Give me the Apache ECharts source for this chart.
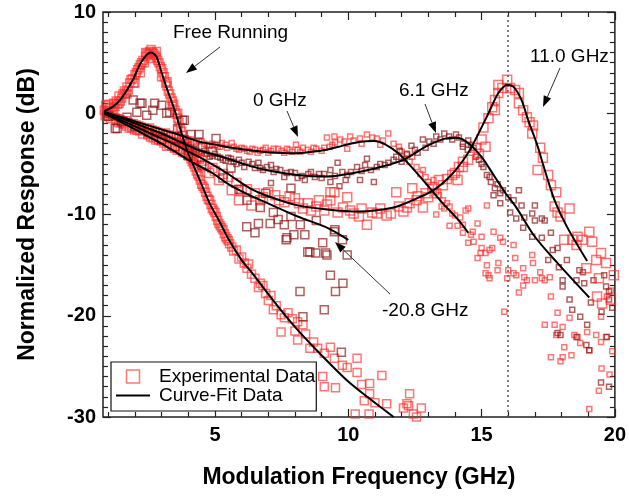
<!DOCTYPE html>
<html>
<head>
<meta charset="utf-8">
<script src="https://cdn.jsdelivr.net/npm/echarts@6/dist/echarts.min.js"></script>
<style>
  html, body { margin: 0; padding: 0; background: #fff; }
  #chart { width: 629px; height: 496px; }
</style>
</head>
<body>
<div id="chart"></div>
<script>
// axis ranges and ticks
const xMin = 0.8
const xMax = 20
const yMin = -30
const yMax = 10
const majorXTicks = [5, 10, 15, 20]
const minorXTicks = [1, 2, 3, 4, 6, 7, 8, 9, 11, 12, 13, 14, 16, 17, 18, 19]
const majorYTicks = [-30, -20, -10, 0, 10]
const minorYTicks = [-29, -28, -27, -26, -25, -24, -23, -22, -21, -19, -18, -17, -16, -15, -14, -13, -12, -11,
  -9, -8, -7, -6, -5, -4, -3, -2, -1, 1, 2, 3, 4, 5, 6, 7, 8, 9]
const markerFreq = 16

// experimental data, [GHz, dB]
const freeRunningData = [
  [0.85, 0.3], [0.9, 0.8], [0.95, 0.0], [1.0, 0.2], [1.0, 0.9], [1.05, 0.6], [1.1, 0.5], [1.15, 0.1], [1.2, 1.0], [1.2, 0.3],
  [1.25, 0.7], [1.3, 1.2], [1.35, 0.9], [1.4, 1.0], [1.4, 1.7], [1.45, 1.2], [1.5, 1.5], [1.55, 1.9], [1.6, 2.2], [1.65, 2.0],
  [1.7, 2.6], [1.7, 1.9], [1.75, 2.3], [1.8, 3.0], [1.85, 3.3], [1.9, 3.4], [1.95, 3.0], [2.0, 3.0], [2.0, 3.8], [2.05, 4.0],
  [2.1, 4.3], [2.15, 4.5], [2.2, 4.0], [2.2, 4.8], [2.25, 5.0], [2.3, 5.2], [2.35, 5.0], [2.4, 5.6], [2.4, 6.0], [2.45, 5.9],
  [2.5, 5.8], [2.55, 6.1], [2.6, 6.3], [2.6, 5.4], [2.65, 6.0], [2.7, 5.9], [2.75, 5.7], [2.8, 5.5], [2.8, 6.1], [2.85, 5.2],
  [2.9, 5.0], [2.95, 4.6], [3.0, 4.4], [3.0, 3.6], [3.05, 4.0], [3.1, 3.6], [3.15, 3.0], [3.2, 2.7], [3.2, 3.1], [3.25, 2.2],
  [3.3, 1.9], [3.35, 1.5], [3.4, 1.2], [3.4, 0.7], [3.45, 0.9], [3.5, 0.3], [3.55, -0.1], [3.6, -0.5], [3.6, 0.0], [3.65, -0.9],
  [3.7, -1.4], [3.75, -1.8], [3.8, -2.2], [3.85, -2.6], [3.9, -3.0], [3.95, -3.3], [4.0, -3.7], [4.05, -4.0], [4.1, -4.5], [4.15, -4.8],
  [4.2, -5.0], [4.25, -5.3], [4.3, -5.7], [4.35, -6.0], [4.4, -6.2], [4.45, -6.6], [4.5, -7.0], [4.55, -7.2], [4.6, -7.4], [4.65, -7.8],
  [4.7, -8.2], [4.75, -8.5], [4.8, -8.6], [4.85, -9.0], [4.9, -9.4], [4.95, -9.6], [5.0, -9.8], [5.05, -10.2], [5.1, -10.6], [5.15, -10.9],
  [5.2, -11.1], [5.25, -11.3], [5.3, -11.5], [5.35, -11.9], [5.4, -12.2], [5.45, -12.4], [5.5, -12.6], [5.55, -12.9], [5.63, -13.2], [5.7, -13.6],
  [5.8, -13.5], [5.9, -14.4], [6.0, -14.2], [6.1, -14.8], [6.2, -15.3], [6.26, -14.9], [6.37, -15.9], [6.5, -16.3], [6.63, -17.2], [6.7, -16.8],
  [6.8, -17.0], [6.9, -17.8], [7.0, -18.5], [7.1, -18.0], [7.19, -19.4], [7.3, -19.0], [7.48, -19.9], [7.6, -20.2], [7.74, -19.7], [7.48, -21.6],
  [7.9, -20.3], [8.0, -21.5], [8.1, -20.6], [8.3, -20.9], [8.1, -22.4], [8.4, -21.8], [8.56, -23.2], [8.7, -22.6], [8.85, -23.2], [9.33, -23.1],
  [9.1, -23.7], [9.48, -24.2], [9.78, -24.9], [9.96, -25.1], [10.33, -24.2], [9.04, -26.0], [9.52, -27.1], [9.1, -27.0], [10.33, -25.6], [10.5, -26.8],
  [10.8, -26.7], [10.8, -27.7], [11.26, -25.9], [10.6, -28.4], [11.0, -28.6], [11.44, -28.7], [10.26, -29.7], [10.78, -29.7], [12.3, -27.7], [12.26, -28.9],
  [12.07, -29.1], [12.44, -29.7], [12.74, -29.1], [12.2, -28.7], [12.56, -30.0]
]
const det0Data = [
  [0.9, 0.2], [1.0, 0.0], [1.1, -0.1], [1.2, -0.3], [1.3, -0.3], [1.4, -0.4], [1.5, -0.5], [1.6, -0.6], [1.7, -0.6], [1.8, -0.8],
  [1.9, -0.9], [2.0, -0.9], [2.1, -1.0], [2.2, -1.1], [2.3, -1.2], [2.4, -1.3], [2.5, -1.4], [2.6, -1.3], [2.7, -1.5], [2.8, -1.6],
  [2.9, -1.7], [3.0, -1.8], [3.1, -1.9], [3.2, -1.8], [3.3, -2.0], [3.4, -2.1], [3.5, -2.2], [3.6, -2.2], [3.7, -2.3], [3.8, -2.4],
  [3.9, -2.5], [4.0, -2.6], [4.1, -2.6], [4.2, -2.8], [4.3, -2.9], [4.4, -2.7], [4.5, -2.8], [4.6, -3.0], [4.7, -3.1], [4.8, -3.2],
  [4.9, -3.0], [5.0, -3.1], [5.1, -3.3], [5.2, -3.3], [5.26, -2.95], [5.4, -3.1], [5.45, -3.4], [5.63, -2.95], [5.7, -3.3], [5.8, -3.5],
  [5.9, -3.6], [6.0, -3.4], [6.1, -3.5], [6.2, -3.7], [6.3, -3.8], [6.4, -3.5], [6.5, -3.6], [6.6, -3.9], [6.7, -3.7], [6.8, -3.6],
  [6.9, -3.4], [7.0, -3.9], [7.1, -3.7], [7.2, -3.5], [7.37, -3.5], [7.5, -3.7], [7.6, -3.9], [7.7, -3.5], [7.8, -3.6], [7.9, -3.8],
  [8.04, -3.1], [8.1, -3.6], [8.2, -3.8], [8.3, -3.4], [8.48, -3.6], [8.6, -3.8], [8.7, -3.4], [8.8, -3.5], [9.0, -3.7], [9.1, -3.4],
  [9.2, -2.4], [9.3, -3.3], [9.4, -3.1], [9.48, -2.3], [9.5, -2.9], [9.7, -2.6], [9.85, -2.8], [9.96, -3.5], [10.07, -2.3], [10.2, -2.7],
  [10.44, -2.5], [10.5, -3.0], [10.7, -2.1], [10.9, -2.4], [11.07, -2.5], [11.2, -3.1], [11.3, -2.7], [11.5, -2.0], [11.7, -3.0], [11.9, -3.3],
  [12.0, -3.8], [12.1, -4.5], [12.2, -4.1], [12.3, -4.8], [12.4, -4.3], [12.56, -5.3], [12.7, -6.0], [12.8, -5.6], [12.9, -6.3], [13.0, -6.8],
  [13.1, -7.3], [13.2, -6.6], [13.3, -7.8], [13.3, -10.0], [13.4, -8.1], [13.5, -9.2], [13.55, -8.6], [13.6, -9.4], [13.7, -8.9], [13.8, -9.2],
  [13.8, -11.1], [13.9, -9.9], [14.0, -10.1], [14.1, -11.1], [14.2, -10.3], [14.3, -11.0], [14.3, -11.8], [14.4, -9.6], [14.5, -9.4], [14.5, -12.8],
  [14.6, -12.0], [14.67, -11.7], [14.7, -12.7], [14.85, -10.9], [14.85, -14.3], [14.96, -13.8], [15.0, -12.2], [15.0, -13.3], [15.15, -13.8], [15.15, -15.8],
  [15.2, -9.1], [15.2, -15.0], [15.26, -16.0], [15.3, -13.5], [15.3, -16.3], [15.4, -13.3], [15.45, -11.7], [15.6, -15.5], [15.63, -14.8], [15.7, -12.3],
  [15.8, -12.7], [15.85, -19.6], [15.96, -16.3], [16.0, -15.5], [16.2, -13.0], [16.2, -15.8], [16.26, -14.3], [16.3, -16.0], [16.4, -17.7], [16.56, -15.3],
  [16.56, -17.0], [16.6, -16.2], [16.7, -16.5], [16.9, -14.0], [16.93, -14.8], [17.0, -16.5], [17.2, -15.7], [17.26, -16.3], [17.37, -16.5], [17.56, -16.2],
  [17.6, -18.1], [17.37, -20.9], [17.74, -20.9], [17.85, -19.7], [18.04, -21.1], [18.3, -20.2], [17.8, -21.9], [18.48, -21.9], [18.6, -22.1], [18.7, -22.7],
  [18.96, -21.6], [19.3, -21.9], [19.48, -22.6], [18.1, -23.1], [17.6, -24.1], [18.04, -24.1], [18.37, -23.9], [17.96, -24.5], [19.04, -23.4], [19.48, -20.1],
  [19.67, -22.1], [19.7, -18.1], [19.5, -25.2], [19.4, -27.4], [19.04, -29.2], [19.85, -17.5], [19.9, -23.5], [19.8, -25.8]
]
const det61Data = [
  [0.9, 0.0], [1.0, -0.2], [1.1, -0.3], [1.2, -0.4], [1.3, -0.4], [1.4, -0.6], [1.5, -0.7], [1.6, -0.7], [1.7, -0.9], [1.8, -1.0],
  [1.9, -1.0], [2.0, -1.2], [2.1, -1.3], [2.2, -1.4], [2.3, -1.5], [2.4, -1.6], [2.5, -1.8], [2.6, -1.9], [2.7, -2.0], [2.8, -2.1],
  [2.9, -2.2], [3.0, -2.1], [3.1, -2.3], [3.2, -2.5], [3.3, -2.6], [3.4, -2.7], [3.5, -2.8], [3.6, -3.0], [3.7, -3.0], [3.8, -3.1],
  [3.9, -3.2], [4.0, -3.3], [4.1, -3.4], [4.2, -3.5], [4.3, -3.6], [4.4, -3.8], [4.5, -3.9], [4.6, -3.7], [4.7, -4.0], [4.8, -4.3],
  [4.9, -4.2], [5.0, -4.0], [5.1, -4.3], [5.2, -4.4], [5.3, -4.6], [5.4, -4.7], [5.5, -4.4], [5.6, -4.5], [5.7, -4.8], [5.8, -5.0],
  [5.9, -4.6], [6.0, -4.9], [6.1, -5.3], [6.26, -4.8], [6.4, -5.0], [6.5, -5.4], [6.63, -4.9], [6.7, -5.4], [6.8, -5.6], [6.95, -5.3],
  [7.1, -5.1], [7.1, -6.9], [7.2, -5.8], [7.3, -5.5], [7.45, -5.6], [7.6, -6.3], [7.7, -5.9], [7.85, -5.8], [8.0, -5.9], [8.1, -6.4],
  [8.25, -6.2], [8.37, -6.6], [8.5, -6.0], [8.6, -5.8], [8.75, -6.3], [8.9, -6.0], [9.0, -6.4], [9.1, -6.0], [9.33, -5.6], [9.33, -6.8],
  [9.5, -6.2], [9.6, -4.9], [9.67, -7.2], [9.78, -5.8], [9.9, -6.6], [9.96, -6.1], [10.1, -5.8], [10.33, -5.3], [10.44, -6.6], [10.5, -5.7],
  [10.63, -5.1], [10.7, -4.5], [10.85, -5.6], [10.96, -6.8], [11.07, -5.3], [11.2, -5.0], [11.37, -5.1], [11.5, -4.9], [11.7, -4.6], [11.8, -4.3],
  [11.93, -3.7], [12.0, -4.8], [12.2, -4.0], [12.37, -3.2], [12.5, -3.6], [12.6, -3.9], [12.8, -2.6], [12.9, -3.4], [13.04, -2.8], [13.2, -3.0],
  [13.3, -2.3], [13.45, -2.6], [13.6, -2.0], [13.78, -2.3], [13.9, -2.6], [14.04, -2.1], [14.15, -2.4], [14.3, -3.0], [14.3, -3.3], [14.48, -3.6],
  [14.5, -2.7], [14.6, -3.1], [14.7, -3.4], [14.78, -4.3], [14.9, -4.6], [15.0, -5.0], [15.07, -5.3], [15.2, -6.1], [15.3, -6.3], [15.35, -6.8],
  [15.45, -8.1], [15.5, -7.4], [15.6, -7.0], [15.7, -7.9], [15.7, -8.9], [15.8, -7.6], [16.0, -8.3], [16.07, -9.8], [16.2, -8.6], [16.3, -10.4],
  [16.4, -7.6], [16.5, -9.1], [16.56, -11.3], [16.6, -10.3], [16.9, -9.9], [16.9, -12.2], [17.0, -9.1], [17.0, -10.6], [17.26, -10.4], [17.26, -12.3],
  [17.37, -10.6], [17.5, -14.5], [17.6, -11.8], [17.67, -13.5], [17.85, -13.3], [17.85, -21.7], [17.9, -15.2], [17.96, -21.9], [18.04, -16.5], [18.04, -17.1],
  [18.2, -14.5], [18.3, -18.4], [18.4, -19.4], [18.56, -16.5], [18.56, -22.1], [18.67, -15.5], [18.7, -20.1], [18.8, -15.7], [18.85, -16.8], [18.93, -22.9],
  [18.96, -20.9], [19.04, -23.4], [19.1, -18.7], [19.2, -16.5], [19.48, -26.6], [19.5, -19.6], [19.6, -16.0], [19.67, -17.1], [19.7, -22.1], [19.78, -17.6],
  [19.78, -18.4], [19.78, -27.0], [19.9, -19.2]
]
const det110Data = [
  [0.9, -0.2], [1.0, -0.3], [1.1, -0.5], [1.3, -0.6], [1.4, -0.9], [1.5, -0.9], [1.6, -1.0], [1.7, -1.2], [1.8, -1.4], [1.9, -1.4],
  [2.0, -1.6], [2.1, -1.6], [2.2, -1.7], [2.3, -2.0], [2.5, -2.1], [2.6, -2.3], [2.7, -2.4], [2.8, -2.6], [2.9, -2.6], [3.0, -2.7],
  [3.1, -2.9], [3.2, -3.2], [3.3, -3.1], [3.4, -3.2], [3.5, -3.4], [3.6, -3.6], [3.7, -3.5], [3.8, -3.8], [3.9, -3.9], [4.0, -4.1],
  [4.1, -4.2], [4.2, -4.6], [4.3, -4.4], [4.4, -4.5], [4.5, -4.7], [4.6, -5.2], [4.78, -5.9], [4.9, -5.4], [5.0, -5.7], [5.15, -6.6],
  [5.3, -6.0], [5.5, -6.3], [5.63, -7.6], [5.8, -6.9], [5.9, -8.6], [6.0, -7.6], [6.2, -7.5], [6.37, -9.1], [6.5, -7.9], [6.7, -8.6],
  [6.8, -8.3], [7.0, -7.8], [7.26, -8.1], [7.4, -8.6], [7.6, -8.8], [7.8, -8.2], [8.0, -8.4], [8.15, -8.9], [8.3, -9.4], [8.48, -8.9],
  [8.6, -9.6], [8.8, -9.2], [8.9, -8.6], [9.1, -9.6], [9.2, -9.0], [9.33, -7.8], [9.33, -8.6], [9.48, -7.8], [9.6, -9.8], [9.8, -9.3],
  [9.96, -8.3], [10.07, -9.6], [10.2, -9.9], [10.4, -10.2], [10.5, -9.4], [10.7, -11.0], [10.9, -9.8], [11.07, -9.9], [11.2, -9.4], [11.44, -10.1],
  [11.6, -9.9], [11.8, -7.8], [11.9, -9.2], [12.07, -9.7], [12.2, -9.3], [12.3, -8.9], [12.4, -7.4], [12.56, -8.6], [12.6, -8.2], [12.8, -9.3],
  [12.9, -7.9], [13.0, -8.3], [13.15, -7.3], [13.3, -7.9], [13.4, -6.6], [13.55, -7.1], [13.7, -6.5], [13.9, -6.1], [14.0, -5.9], [14.1, -6.6],
  [14.15, -5.3], [14.3, -4.8], [14.3, -5.3], [14.5, -4.6], [14.78, -3.4], [14.9, -4.0], [15.0, -2.6], [15.07, -1.4], [15.15, -3.3], [15.26, -0.5],
  [15.4, 0.6], [15.5, 0.3], [15.5, 1.3], [15.63, 2.0], [15.63, 2.8], [15.78, 2.5], [15.96, 3.3], [16.07, 2.5], [16.26, 2.3], [16.4, 2.0],
  [16.4, 1.0], [16.56, 0.3], [16.7, -0.4], [16.8, -0.9], [16.93, -1.2], [16.9, -2.0], [17.1, -5.6], [17.2, -3.4], [17.3, -4.4], [17.5, -6.1],
  [17.6, -7.1], [17.74, -9.2], [17.8, -7.8], [17.85, -9.8], [17.96, -10.2], [18.1, -12.5], [18.3, -9.4], [18.4, -12.5], [18.56, -13.0], [18.6, -12.2],
  [18.78, -12.5], [18.93, -15.3], [19.04, -11.7], [19.15, -12.7], [19.3, -14.5], [19.33, -18.1], [19.4, -16.3], [19.48, -13.8], [19.52, -18.8], [19.67, -14.8],
  [19.85, -18.4], [19.96, -16.0]
]
const detM208Data = [
  [1.0, -0.3], [1.26, -1.5], [1.33, -1.5], [1.5, -0.8], [1.7, -0.4], [1.93, 1.3], [2.0, -1.3], [2.07, 0.1], [2.19, 1.0], [2.26, 1.0],
  [2.44, -0.2], [2.5, -1.9], [2.67, 0.3], [2.74, 1.0], [3.0, 0.8], [3.0, -2.6], [3.19, 0.0], [3.3, 0.1], [3.5, -3.3], [3.6, -1.5],
  [3.78, -0.7], [3.85, -0.7], [4.0, -4.2], [4.1, -2.1], [4.4, -2.1], [4.5, -5.1], [4.52, -3.3], [4.9, -3.8], [5.04, -2.5], [5.3, -6.4],
  [5.6, -5.4], [5.9, -7.5], [6.2, -8.6], [6.19, -11.2], [6.5, -11.8], [6.63, -10.9], [6.7, -9.3], [6.9, -7.9], [7.07, -10.9], [7.19, -9.8],
  [7.37, -10.5], [7.6, -11.0], [7.67, -12.5], [7.7, -12.3], [7.85, -10.2], [7.85, -7.4], [7.96, -12.0], [8.2, -11.0], [8.37, -12.0], [8.48, -13.7],
  [8.56, -13.7], [8.78, -13.8], [8.8, -10.6], [9.04, -12.8], [9.15, -13.8], [9.2, -14.0], [9.48, -11.7], [9.5, -11.5], [9.78, -12.5], [9.96, -14.0],
  [9.33, -16.0], [9.8, -16.8], [9.52, -17.6], [8.19, -17.6], [9.1, -19.4], [8.3, -20.1], [9.74, -23.6]
]

// curve fits
const fitFree = [
  [0.85, 0.2], [1.2, 0.7], [1.5, 1.5], [1.9, 3.2], [2.2, 4.9], [2.45, 5.8], [2.6, 6.0], [2.8, 5.6], [3.0, 4.0], [3.2, 2.4],
  [3.5, 0.2], [3.75, -2.0], [4.0, -4.0], [4.3, -5.8], [4.8, -8.9], [5.15, -10.6], [5.5, -12.4], [6.0, -14.5], [6.4, -15.8], [7.1, -18.2],
  [8.0, -21.1], [8.85, -23.5], [10.0, -26.5], [11.0, -28.6], [11.7, -30]
]
const fit0 = [
  [0.85, 0.1], [1.5, -0.4], [2.0, -0.8], [2.5, -1.2], [3.0, -1.6], [3.5, -2.0], [4.0, -2.45], [4.4, -2.8], [5.0, -3.1], [5.5, -3.35],
  [6.3, -3.65], [7.0, -3.85], [8.0, -3.95], [8.5, -3.85], [9.2, -3.6], [9.8, -3.2], [10.4, -2.85], [10.96, -2.75], [11.4, -3.1], [11.9, -4.0],
  [12.3, -5.1], [12.9, -6.9], [13.55, -8.9], [14.15, -10.6], [14.5, -11.8]
]
const fit61 = [
  [0.85, 0.1], [1.5, -0.5], [2.0, -1.0], [2.5, -1.5], [3.0, -2.0], [3.5, -2.6], [4.0, -3.2], [4.4, -3.65], [5.0, -4.1], [5.5, -4.5],
  [6.3, -5.2], [7.0, -5.65], [8.1, -6.1], [9.2, -6.25], [10.0, -6.0], [11.07, -5.4], [12.07, -4.6], [12.9, -3.3], [13.4, -2.7], [13.8, -2.45],
  [14.1, -2.45], [14.5, -2.95], [15.0, -4.3], [15.5, -6.3], [15.9, -7.9], [16.3, -9.3], [17.0, -12.2], [17.85, -14.8], [19.04, -18.2]
]
const fit110 = [
  [0.85, 0.0], [1.5, -0.7], [2.0, -1.3], [2.5, -1.9], [3.0, -2.5], [3.5, -3.1], [4.0, -3.8], [4.4, -4.3], [5.0, -5.2], [5.5, -6.0],
  [6.3, -7.4], [7.0, -8.2], [8.1, -9.1], [9.2, -9.5], [10.4, -9.7], [11.7, -9.3], [12.4, -8.6], [13.2, -7.6], [13.9, -6.0], [14.4, -4.3],
  [14.7, -2.95], [15.26, 0.0], [15.63, 2.0], [15.96, 2.8], [16.2, 2.6], [16.5, 1.3], [16.75, -0.7], [17.07, -3.0], [17.37, -5.6], [17.74, -8.6],
  [18.2, -11.2], [18.96, -14.6]
]
const fitM208 = [
  [0.85, 0.0], [1.5, -0.9], [2.0, -1.6], [2.5, -2.3], [3.0, -3.0], [3.5, -3.8], [4.0, -4.6], [4.4, -5.2], [4.9, -5.9], [5.5, -7.0],
  [6.3, -8.1], [6.9, -8.8], [8.1, -10.2], [9.2, -11.3], [10.0, -12.5]
]

const FONT = 'Liberation Sans, Arial, sans-serif'
const RED = 'rgba(255, 35, 35, 0.78)'
const DARK = 'rgba(140, 20, 20, 0.85)'

function scatter (data, color, size) {
  return {
    name: 'Experimental Data',
    type: 'scatter',
    data: data,
    symbol: 'rect',
    symbolSize: size,
    itemStyle: { color: 'rgba(0,0,0,0)', borderColor: color, borderWidth: 1.5 },
    silent: true,
    z: 2
  }
}

function fitLine (data) {
  return {
    name: 'Curve-Fit Data',
    type: 'line',
    data: data,
    symbol: 'none',
    smooth: 0.3,
    lineStyle: { color: '#000', width: 2 },
    itemStyle: { color: '#000' },
    silent: true,
    z: 5
  }
}

// arrow from tail (x1,y1) to head (x2,y2), in pixels
function arrow (x1, y1, x2, y2) {
  const dx = x2 - x1
  const dy = y2 - y1
  const len = Math.hypot(dx, dy)
  const ux = dx / len
  const uy = dy / len
  const hl = 11
  const hw = 4
  const bx = x2 - ux * hl
  const by = y2 - uy * hl
  return [
    { type: 'line', shape: { x1: x1, y1: y1, x2: bx, y2: by }, style: { stroke: '#333', lineWidth: 1 }, z: 10 },
    {
      type: 'polygon',
      shape: { points: [[x2, y2], [bx - uy * hw, by + ux * hw], [bx + uy * hw, by - ux * hw]] },
      style: { fill: '#000' },
      z: 10
    }
  ]
}

function label (text, x, y) {
  return {
    type: 'text',
    x: x,
    y: y,
    style: { text: text, font: '19px ' + FONT, fill: '#000', textVerticalAlign: 'middle' },
    z: 10
  }
}

function xAxisCfg (position, ticks, len, withLabels) {
  return {
    type: 'value',
    min: xMin,
    max: xMax,
    position: position,
    axisLine: { show: false, onZero: false },
    axisTick: { show: true, inside: true, length: len, customValues: ticks, lineStyle: { color: '#222', width: 1.2 } },
    axisLabel: withLabels
      ? { show: true, customValues: ticks, color: '#000', fontSize: 20, fontWeight: 'bold', fontFamily: FONT, margin: 8 }
      : { show: false },
    splitLine: { show: false }
  }
}

function yAxisCfg (position, ticks, len, withLabels) {
  return {
    type: 'value',
    min: yMin,
    max: yMax,
    position: position,
    axisLine: { show: false, onZero: false },
    axisTick: { show: true, inside: true, length: len, customValues: ticks, lineStyle: { color: '#222', width: 1.2 } },
    axisLabel: withLabels
      ? { show: true, customValues: ticks, color: '#000', fontSize: 20, fontWeight: 'bold', fontFamily: FONT, margin: 7 }
      : { show: false },
    splitLine: { show: false }
  }
}

const myChart = echarts.init(document.getElementById('chart'), null, { renderer: 'canvas' })

const xBottom = xAxisCfg('bottom', majorXTicks, 8, true)
xBottom.name = 'Modulation Frequency (GHz)'
xBottom.nameLocation = 'middle'
xBottom.nameGap = 49
xBottom.nameTextStyle = { fontSize: 23, fontWeight: 'bold', fontFamily: FONT, color: '#000' }

const yLeft = yAxisCfg('left', majorYTicks, 8, true)
yLeft.name = 'Normalized Response (dB)'
yLeft.nameLocation = 'middle'
yLeft.nameGap = 64
yLeft.nameTextStyle = { fontSize: 23, fontWeight: 'bold', fontFamily: FONT, color: '#000' }

const fitSeries = [fitLine(fitFree), fitLine(fit0), fitLine(fit61), fitLine(fit110), fitLine(fitM208)]
fitSeries[3].markLine = {
  silent: true,
  symbol: ['none', 'none'],
  label: { show: false },
  lineStyle: { type: [2, 3], color: '#555', width: 1.5 },
  data: [{ xAxis: markerFreq }]
}

const option = {
  animation: false,
  backgroundColor: '#fff',
  grid: {
    left: 103,
    right: 9,
    top: 12,
    bottom: 79,
    show: true,
    borderColor: '#222',
    borderWidth: 1.5,
    backgroundColor: 'rgba(0,0,0,0)'
  },
  legend: {
    orient: 'vertical',
    left: 111,
    top: 362,
    padding: [5, 1, 6, 5],
    itemGap: 0,
    itemWidth: 34,
    itemHeight: 13,
    borderColor: '#111',
    borderWidth: 1.2,
    backgroundColor: '#fff',
    selectedMode: false,
    textStyle: { fontSize: 19, fontFamily: FONT, color: '#000', lineHeight: 19, padding: [0, 0, 0, 4] },
    data: [
      {
        name: 'Experimental Data',
        icon: 'path://M0,0 L10,0 L10,10 L0,10 Z',
        itemStyle: { color: 'rgba(0,0,0,0)', borderColor: RED, borderWidth: 1.5 }
      },
      {
        name: 'Curve-Fit Data',
        icon: 'path://M0,0 L34,0 L34,2 L0,2 Z',
        itemStyle: { color: '#000', borderWidth: 0 }
      }
    ]
  },
  xAxis: [
    xBottom,
    xAxisCfg('bottom', minorXTicks, 5, false),
    xAxisCfg('top', majorXTicks, 8, false),
    xAxisCfg('top', minorXTicks, 5, false)
  ],
  yAxis: [
    yLeft,
    yAxisCfg('left', minorYTicks, 5, false),
    yAxisCfg('right', majorYTicks, 8, false),
    yAxisCfg('right', minorYTicks, 5, false)
  ],
  graphic: [
    label('Free Running', 173, 33),
    label('0 GHz', 253, 101),
    label('6.1 GHz', 399, 91),
    label('11.0 GHz', 530, 57),
    label('-20.8 GHz', 382, 311),
    ...arrow(220, 47, 186, 73),
    ...arrow(287, 111, 298, 137),
    ...arrow(425, 104, 436, 133),
    ...arrow(560, 68, 543, 107),
    ...arrow(390, 294, 335, 242)
  ],
  series: [
    scatter(freeRunningData, RED, 8),
    scatter(det0Data, RED, 5),
    scatter(det61Data, DARK, 5),
    scatter(det110Data, RED, 9),
    scatter(detM208Data, DARK, 8),
    ...fitSeries
  ]
}

myChart.setOption(option)
window.onresize = myChart.resize
</script>
</body>
</html>
